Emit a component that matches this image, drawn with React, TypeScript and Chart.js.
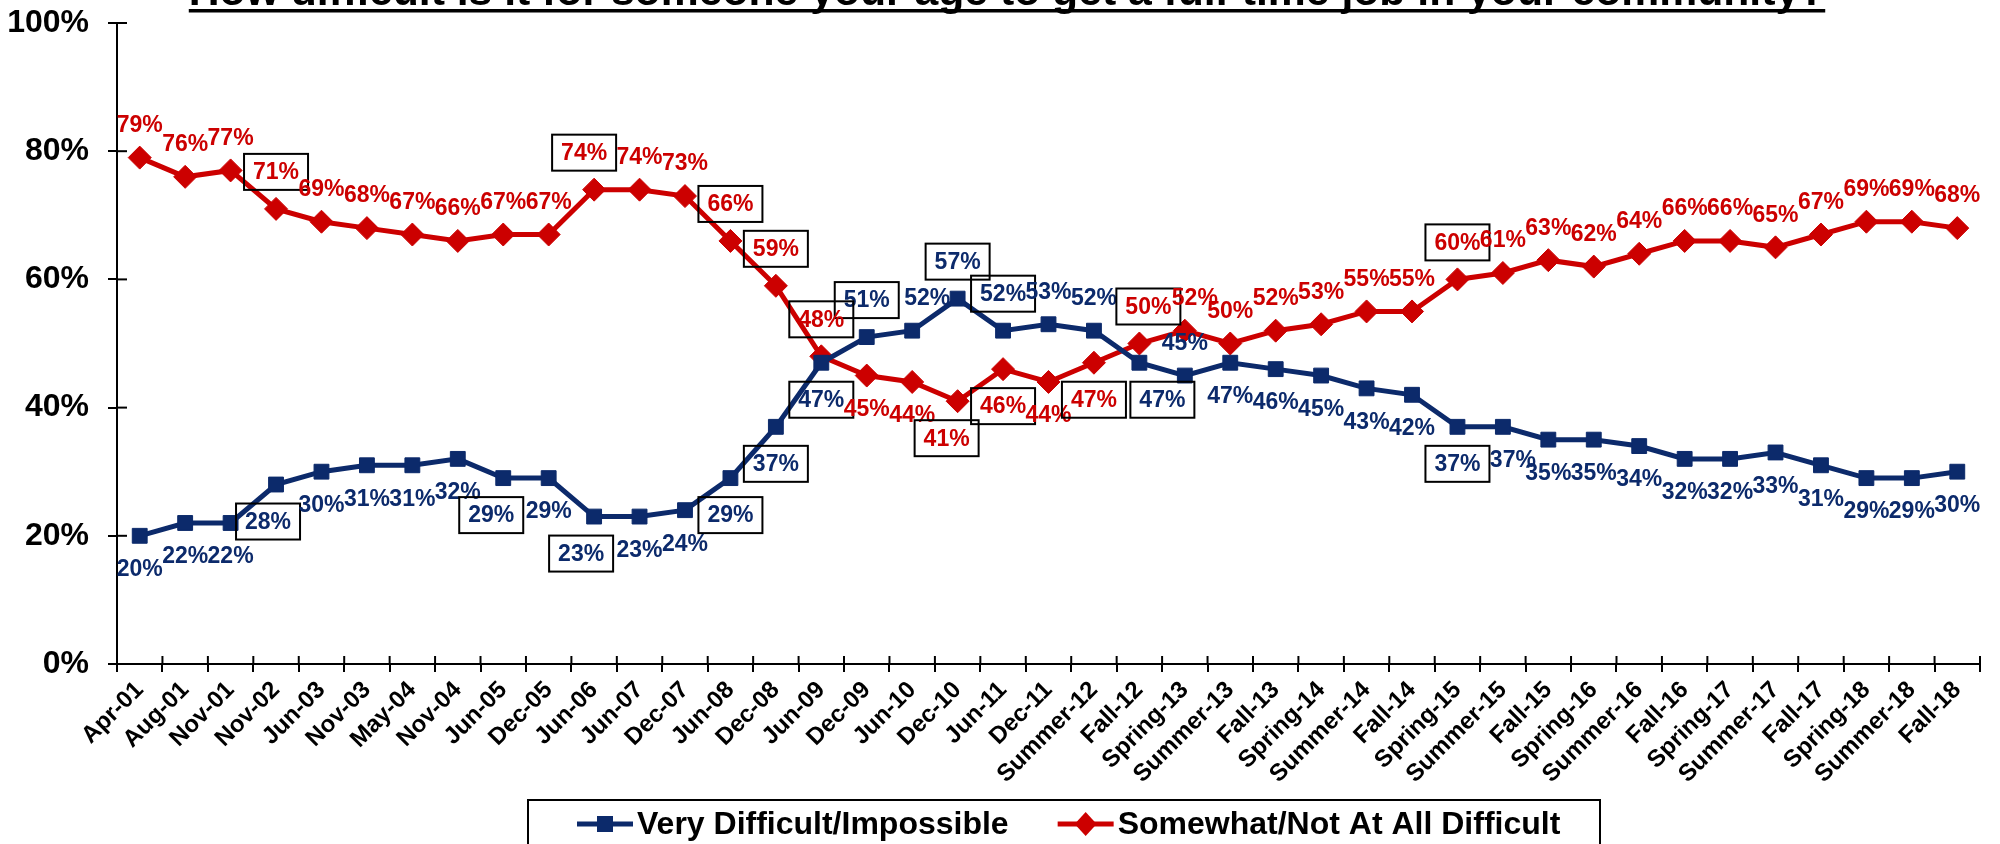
import React, { useEffect, useRef } from 'react';
import { Chart, registerables } from 'chart.js';

Chart.register(...registerables);

const titleText = 'How difficult is it for someone your age to get a full-time job in your community?';

const categories = [
  'Apr-01', 'Aug-01', 'Nov-01', 'Nov-02', 'Jun-03', 'Nov-03', 'May-04', 'Nov-04', 'Jun-05', 'Dec-05',
  'Jun-06', 'Jun-07', 'Dec-07', 'Jun-08', 'Dec-08', 'Jun-09', 'Dec-09', 'Jun-10', 'Dec-10', 'Jun-11',
  'Dec-11', 'Summer-12', 'Fall-12', 'Spring-13', 'Summer-13', 'Fall-13', 'Spring-14', 'Summer-14', 'Fall-14', 'Spring-15',
  'Summer-15', 'Fall-15', 'Spring-16', 'Summer-16', 'Fall-16', 'Spring-17', 'Summer-17', 'Fall-17', 'Spring-18', 'Summer-18',
  'Fall-18',
];

const veryDifficult = [
  20, 22, 22, 28, 30, 31, 31, 32, 29, 29,
  23, 23, 24, 29, 37, 47, 51, 52, 57, 52,
  53, 52, 47, 45, 47, 46, 45, 43, 42, 37,
  37, 35, 35, 34, 32, 32, 33, 31, 29, 29,
  30,
];

const somewhatNotDifficult = [
  79, 76, 77, 71, 69, 68, 67, 66, 67, 67,
  74, 74, 73, 66, 59, 48, 45, 44, 41, 46,
  44, 47, 50, 52, 50, 52, 53, 55, 55, 60,
  61, 63, 62, 64, 66, 66, 65, 67, 69, 69,
  68,
];

const seriesNames = ['Very Difficult/Impossible', 'Somewhat/Not At All Difficult'];
const yTickValues = [0, 20, 40, 60, 80, 100];

// label styling (which labels are boxed / flipped side / nudged)
const blueBoxed = [3, 8, 10, 13, 14, 15, 16, 18, 19, 22, 29];
const redBoxed = [3, 10, 13, 14, 15, 18, 19, 21, 22, 29];
const blueFlipped = [16, 17, 18, 19, 20, 21, 23];
const redFlipped = [16, 17, 18, 19, 20, 21];
const blueNudge: Record<number, number> = { 3: -8, 8: -12, 10: -13, 17: 15, 22: 23, 30: 10 };
const redNudge: Record<number, number> = { 10: -10, 18: -11, 22: 9, 23: 10 };

const BLUE = '#0c2a6b';
const RED = '#cc0000';
const FONT = '"Liberation Sans", Arial, Helvetica, sans-serif';

const labelCfg = [
  { below: true, boxed: blueBoxed, flip: blueFlipped, nudge: blueNudge },
  { below: false, boxed: redBoxed, flip: redFlipped, nudge: redNudge },
];

const pointLabels = {
  id: 'pointLabels',
  afterDatasetsDraw(chart: any) {
    const ctx = chart.ctx;
    ctx.save();
    ctx.font = `bold 23px ${FONT}`;
    ctx.textAlign = 'center';
    ctx.textBaseline = 'middle';
    chart.data.datasets.forEach((ds: any, di: number) => {
      const meta = chart.getDatasetMeta(di);
      const cfg = labelCfg[di];
      meta.data.forEach((pt: any, i: number) => {
        const v = ds.data[i];
        const boxed = cfg.boxed.includes(i);
        const below = cfg.flip.includes(i) ? !cfg.below : cfg.below;
        const off = boxed ? 37 : 33;
        const x = pt.x + (cfg.nudge[i] || 0);
        const y = pt.y + (below ? off : -off);
        ctx.fillStyle = ds.borderColor;
        ctx.fillText(`${v}%`, x, y + 1);
        if (boxed) {
          ctx.strokeStyle = '#000';
          ctx.lineWidth = 2;
          ctx.strokeRect(x - 32, y - 18, 64, 36);
        }
      });
    });
    ctx.restore();
  },
};

const innerTicks = {
  id: 'innerTicks',
  beforeDatasetsDraw(chart: any) {
    const { ctx, chartArea, scales } = chart;
    ctx.save();
    ctx.strokeStyle = '#000';
    ctx.lineWidth = 2;
    const n = categories.length;
    const w = (chartArea.right - chartArea.left) / n;
    for (let i = 1; i <= n; i++) {
      const x = chartArea.left + i * w;
      ctx.beginPath();
      ctx.moveTo(x, chartArea.bottom);
      ctx.lineTo(x, chartArea.bottom - 8);
      ctx.stroke();
    }
    yTickValues.forEach((v) => {
      const y = scales.y.getPixelForValue(v);
      ctx.beginPath();
      ctx.moveTo(chartArea.left, y);
      ctx.lineTo(chartArea.left + 10, y);
      ctx.stroke();
    });
    ctx.restore();
  },
};

const titleAndLegend = {
  id: 'titleAndLegend',
  afterDraw(chart: any) {
    const ctx = chart.ctx;
    ctx.save();
    // title (top cut off like in the original)
    ctx.font = `bold 42.7px ${FONT}`;
    ctx.fillStyle = '#000';
    ctx.textAlign = 'center';
    ctx.textBaseline = 'alphabetic';
    const tx = 1007;
    const tw = ctx.measureText(titleText).width;
    ctx.fillText(titleText, tx, 5);
    ctx.fillRect(tx - tw / 2, 9, tw, 3.5);

    // legend
    ctx.strokeStyle = '#000';
    ctx.lineWidth = 2;
    ctx.strokeRect(528, 800, 1072, 70);
    ctx.font = `bold 32px ${FONT}`;
    ctx.textAlign = 'left';
    ctx.textBaseline = 'middle';
    const ly = 824;
    let x = 577;
    chart.data.datasets.forEach((ds: any, di: number) => {
      ctx.strokeStyle = ds.borderColor;
      ctx.fillStyle = ds.borderColor;
      ctx.lineWidth = 5;
      ctx.beginPath();
      ctx.moveTo(x, ly);
      ctx.lineTo(x + 56, ly);
      ctx.stroke();
      const cx = x + 28;
      ctx.beginPath();
      if (di === 0) {
        ctx.rect(cx - 8, ly - 8, 16, 16);
      } else {
        ctx.moveTo(cx, ly - 12);
        ctx.lineTo(cx + 11, ly);
        ctx.lineTo(cx, ly + 12);
        ctx.lineTo(cx - 11, ly);
        ctx.closePath();
      }
      ctx.fill();
      ctx.fillStyle = '#000';
      ctx.fillText(ds.label, x + 60, ly + 1);
      x = x + 60 + ctx.measureText(ds.label).width + 49;
    });
    ctx.restore();
  },
};

export default function App() {
  const ref = useRef<HTMLCanvasElement | null>(null);

  useEffect(() => {
    document.body.style.margin = '0';
    const canvas = ref.current;
    if (!canvas) return;
    const chart = new Chart(canvas, {
      type: 'line',
      data: {
        labels: categories,
        datasets: [
          {
            label: seriesNames[0],
            data: veryDifficult,
            borderColor: BLUE,
            backgroundColor: BLUE,
            borderWidth: 5,
            pointStyle: 'rect',
            pointRadius: 10.5,
            pointBorderWidth: 1,
            pointBorderColor: BLUE,
            pointBackgroundColor: BLUE,
            tension: 0,
          },
          {
            label: seriesNames[1],
            data: somewhatNotDifficult,
            borderColor: RED,
            backgroundColor: RED,
            borderWidth: 5,
            pointStyle: 'rectRot',
            pointRadius: 11.5,
            pointBorderWidth: 1,
            pointBorderColor: RED,
            pointBackgroundColor: RED,
            tension: 0,
          },
        ],
      },
      options: {
        responsive: false,
        animation: false,
        devicePixelRatio: 1,
        layout: { padding: { left: 0, right: 20, top: 23, bottom: 0 } },
        plugins: {
          legend: { display: false },
          title: { display: false },
          tooltip: { enabled: false },
        },
        scales: {
          x: {
            offset: true,
            grid: { display: true, drawOnChartArea: false, drawTicks: true, tickLength: 8, color: '#000', lineWidth: 2, offset: true },
            border: { display: true, color: '#000', width: 2 },
            ticks: {
              autoSkip: false,
              maxRotation: 45,
              minRotation: 45,
              color: '#000',
              padding: 4,
              font: { family: FONT, size: 24, weight: 'bold' },
            },
            afterFit: (s: any) => {
              s.height = 180;
              s.paddingLeft = 0;
              s.paddingRight = 0;
            },
          },
          y: {
            min: 0,
            max: 100,
            afterBuildTicks: (s: any) => { s.ticks = yTickValues.map((v) => ({ value: v })); },
            grid: { display: true, drawOnChartArea: false, drawTicks: true, tickLength: 9, color: '#000', lineWidth: 2 },
            border: { display: true, color: '#000', width: 2 },
            ticks: {
              color: '#000',
              padding: 19,
              callback: (v: any) => `${v}%`,
              font: { family: FONT, size: 32, weight: 'bold' },
            },
            afterFit: (s: any) => {
              s.width = 117;
              s.paddingTop = 0;
              s.paddingBottom = 0;
            },
          },
        },
      },
      plugins: [innerTicks, pointLabels, titleAndLegend],
    });
    return () => chart.destroy();
  }, []);

  return <canvas ref={ref} width={2000} height={844} style={{ display: 'block' }} />;
}
